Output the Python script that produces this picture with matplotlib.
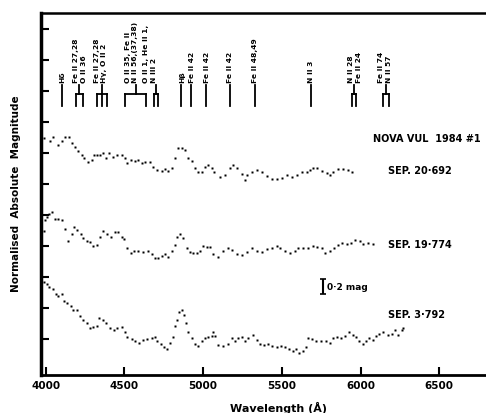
import matplotlib
matplotlib.use("Agg")
import matplotlib.pyplot as plt

plt.rcParams['font.family'] = ['DejaVu Sans']
plt.rcParams['font.weight'] = 'bold'

# spectrum of 1984 Sep 20.692 (wavelength in A, normalised magnitude incl. offset)
wl_sep20 = [3989, 4027, 4048, 4080, 4102, 4123, 4150, 4165, 4186, 4207, 4229, 4243,
            4267, 4292, 4307, 4328, 4345, 4366, 4383, 4404, 4426, 4451, 4483, 4504,
            4518, 4540, 4567, 4588, 4610, 4631, 4662, 4683, 4709, 4737, 4758, 4779,
            4800, 4821, 4842, 4864, 4885, 4906, 4927, 4948, 4969, 4991, 5012, 5033,
            5054, 5069, 5107, 5139, 5171, 5192, 5213, 5245, 5266, 5281, 5308, 5340,
            5372, 5404, 5435, 5467, 5499, 5531, 5562, 5594, 5626, 5658, 5679, 5700,
            5721, 5753, 5785, 5806, 5827, 5859, 5890, 5922, 5944]
mag_sep20 = [1.41, 1.45, 1.40, 1.50, 1.45, 1.39, 1.40, 1.47, 1.52, 1.58, 1.62, 1.67,
             1.72, 1.69, 1.62, 1.63, 1.62, 1.60, 1.66, 1.60, 1.65, 1.63, 1.63, 1.67,
             1.73, 1.69, 1.70, 1.69, 1.73, 1.72, 1.72, 1.78, 1.82, 1.83, 1.81, 1.83,
             1.79, 1.66, 1.54, 1.53, 1.56, 1.67, 1.70, 1.80, 1.84, 1.85, 1.78, 1.76,
             1.79, 1.84, 1.91, 1.88, 1.80, 1.75, 1.80, 1.87, 1.95, 1.88, 1.84, 1.82,
             1.85, 1.90, 1.94, 1.93, 1.92, 1.89, 1.91, 1.88, 1.85, 1.84, 1.82, 1.79,
             1.80, 1.83, 1.86, 1.88, 1.84, 1.81, 1.81, 1.82, 1.84]

# spectrum of 1984 Sep 19.774
wl_sep19 = [3989, 3996, 4006, 4023, 4042, 4059, 4080, 4102, 4123, 4144, 4165, 4182,
            4201, 4222, 4239, 4260, 4281, 4299, 4324, 4345, 4366, 4387, 4413, 4440,
            4461, 4483, 4497, 4518, 4540, 4561, 4588, 4620, 4652, 4673, 4694, 4715,
            4737, 4758, 4779, 4800, 4821, 4836, 4853, 4874, 4896, 4917, 4938, 4959,
            4980, 5001, 5023, 5044, 5065, 5097, 5128, 5160, 5181, 5213, 5245, 5277,
            5308, 5340, 5372, 5404, 5435, 5467, 5488, 5520, 5552, 5583, 5604, 5636,
            5668, 5700, 5725, 5753, 5774, 5806, 5831, 5859, 5880, 5912, 5937, 5965,
            5996, 6017, 6049, 6077]
mag_sep19 = [2.61, 2.46, 2.42, 2.39, 2.36, 2.45, 2.45, 2.46, 2.58, 2.74, 2.64, 2.56,
             2.59, 2.65, 2.70, 2.74, 2.75, 2.80, 2.79, 2.69, 2.61, 2.64, 2.68, 2.62,
             2.62, 2.68, 2.71, 2.83, 2.89, 2.86, 2.87, 2.88, 2.87, 2.91, 2.95, 2.95,
             2.93, 2.91, 2.94, 2.87, 2.79, 2.69, 2.65, 2.70, 2.82, 2.88, 2.89, 2.89,
             2.87, 2.80, 2.81, 2.81, 2.91, 2.94, 2.87, 2.83, 2.85, 2.91, 2.92, 2.88,
             2.83, 2.86, 2.88, 2.84, 2.82, 2.80, 2.82, 2.87, 2.89, 2.87, 2.83, 2.83,
             2.82, 2.80, 2.81, 2.83, 2.89, 2.86, 2.82, 2.79, 2.76, 2.77, 2.76, 2.72,
             2.74, 2.77, 2.76, 2.78]

# spectrum of 1984 Sep 3.792
wl_sep3 = [3989, 4006, 4023, 4044, 4065, 4080, 4102, 4116, 4137, 4159, 4175, 4197,
           4218, 4239, 4260, 4281, 4302, 4324, 4340, 4362, 4383, 4408, 4434, 4455,
           4483, 4504, 4518, 4546, 4567, 4595, 4620, 4645, 4673, 4694, 4709, 4730,
           4751, 4772, 4789, 4807, 4821, 4832, 4849, 4864, 4878, 4891, 4906, 4927,
           4948, 4969, 4991, 5012, 5033, 5054, 5061, 5075, 5097, 5128, 5160, 5181,
           5202, 5223, 5245, 5266, 5287, 5315, 5340, 5361, 5387, 5414, 5435, 5467,
           5493, 5520, 5547, 5569, 5590, 5611, 5636, 5651, 5668, 5690, 5717, 5747,
           5780, 5806, 5823, 5848, 5874, 5901, 5928, 5950, 5971, 5992, 6013, 6034,
           6055, 6077, 6098, 6119, 6142, 6176, 6198, 6219, 6240, 6261, 6271]
mag_sep3 = [3.27, 3.29, 3.33, 3.36, 3.42, 3.45, 3.42, 3.51, 3.54, 3.57, 3.62, 3.63,
            3.71, 3.75, 3.79, 3.86, 3.85, 3.83, 3.73, 3.75, 3.80, 3.86, 3.88, 3.86,
            3.84, 3.91, 3.97, 4.00, 4.03, 4.05, 4.01, 4.00, 3.99, 3.97, 4.03, 4.06,
            4.10, 4.13, 4.05, 3.97, 3.83, 3.75, 3.65, 3.62, 3.69, 3.80, 3.91, 3.99,
            4.06, 4.09, 4.03, 3.99, 3.97, 3.96, 3.91, 3.96, 4.08, 4.09, 4.06, 3.99,
            4.02, 3.99, 3.97, 4.03, 3.99, 3.95, 4.01, 4.06, 4.08, 4.06, 4.09, 4.11,
            4.09, 4.10, 4.13, 4.16, 4.13, 4.18, 4.16, 4.11, 3.99, 4.00, 4.02, 4.03,
            4.03, 4.05, 3.99, 3.97, 3.99, 3.96, 3.91, 3.95, 3.97, 4.03, 4.06, 4.02,
            3.99, 4.01, 3.96, 3.93, 3.91, 3.95, 3.93, 3.89, 3.95, 3.88, 3.86]

# line identifications: label texts, label wavelengths, marker legs
id_labels = [["H\u03b4"], ["Fe II 27,28", "O II 36"], ["Fe II 27,28", "H\u03b3, O II 2"],
             ["O II 35, Fe II", "N II 56,(37,38)"], ["O II 1, He II 1,", "N III 2"],
             ["H\u03b2"], ["Fe II 42"], ["Fe II 42"], ["Fe II 42"], ["Fe II 48,49"],
             ["N II 3"], ["N II 28", "Fe II 24"], ["Fe II 74", "N II 57"]]
id_label_wl = [[4104], [4192, 4240], [4323, 4370], [4520, 4567], [4640, 4688],
               [4866], [4929], [5024], [5170], [5329], [5685], [5942, 5990],
               [6133, 6181]]
id_legs = [[4101], [4190, 4236], [4325, 4357, 4390], [4505, 4640], [4688, 4715],
           [4862], [4925], [5020], [5170], [5330], [5684], [5945, 5972],
           [6145, 6178]]

dates = ["SEP. 20\u00b7692", "SEP. 19\u00b7774", "SEP. 3\u00b7792"]
date_mag = [1.83, 2.79, 3.69]
xticks = [4000, 4500, 5000, 5500, 6000, 6500]

fig = plt.figure(figsize=(4.86, 4.13), dpi=100)
ax = fig.add_axes([41 / 486, 38 / 413, 445 / 486, 362 / 413])

for wl, mag in [(wl_sep20, mag_sep20), (wl_sep19, mag_sep19), (wl_sep3, mag_sep3)]:
    ax.plot(wl, mag, 's', ms=2.0, color='k', mec='none')

ax.set_xlim(3970, 6797)
ax.set_ylim(4.465, -0.206)

ax.set_xticks(xticks)
ax.set_yticks([0.4 * i for i in range(11)])
ax.set_yticklabels([])
ax.tick_params(direction='in', length=6, width=1.5, labelsize=7.5, pad=4)
for lab in ax.get_xticklabels():
    lab.set_fontweight('bold')
ax.spines['right'].set_visible(False)
ax.spines['left'].set_linewidth(2.5)
ax.spines['bottom'].set_linewidth(2)
ax.spines['top'].set_linewidth(1.8)

# identification markers above the spectra
tr = ax.get_xaxis_transform()
y_top, y_bar, y_bot, y_txt = 0.801, 0.776, 0.743, 0.807
for labels, lx, legs in zip(id_labels, id_label_wl, id_legs):
    for t, x in zip(labels, lx):
        ax.text(x, y_txt, t, transform=tr, rotation=90, ha='center', va='bottom',
                fontsize=5.4, fontweight='bold')
    if len(legs) == 1:
        ax.plot([legs[0], legs[0]], [y_top, y_bot], transform=tr, color='k', lw=1.3)
    else:
        mid = (legs[0] + legs[-1]) / 2
        ax.plot([mid, mid], [y_top, y_bar], transform=tr, color='k', lw=1.3)
        ax.plot([legs[0], legs[-1]], [y_bar, y_bar], transform=tr, color='k', lw=1.3)
        for leg in legs:
            ax.plot([leg, leg], [y_bar, y_bot], transform=tr, color='k', lw=1.3)

ax.text(6079, 1.42, "NOVA VUL  1984 #1", fontsize=7, fontweight='bold', va='center')
for d, m in zip(dates, date_mag):
    ax.text(6175, m, d, fontsize=7, fontweight='bold', va='center')

# 0.2 mag scale bar
ax.errorbar([5761], [3.326], yerr=0.1, color='k', capsize=2, elinewidth=1.5, capthick=1.2)
ax.text(5786, 3.34, "0\u00b72 mag", fontsize=6.5, fontweight='bold', va='center')

fig.text(278 / 486, 1 - 408 / 413, "Wavelength (\u00c5)", fontsize=8,
         fontweight='bold', ha='center', va='center')
fig.text(16 / 486, 1 - 194 / 413, "Normalised  Absolute  Magnitude", fontsize=7.5,
         fontweight='bold', ha='center', va='center', rotation=90)

fig.savefig("out.png", dpi=100)
